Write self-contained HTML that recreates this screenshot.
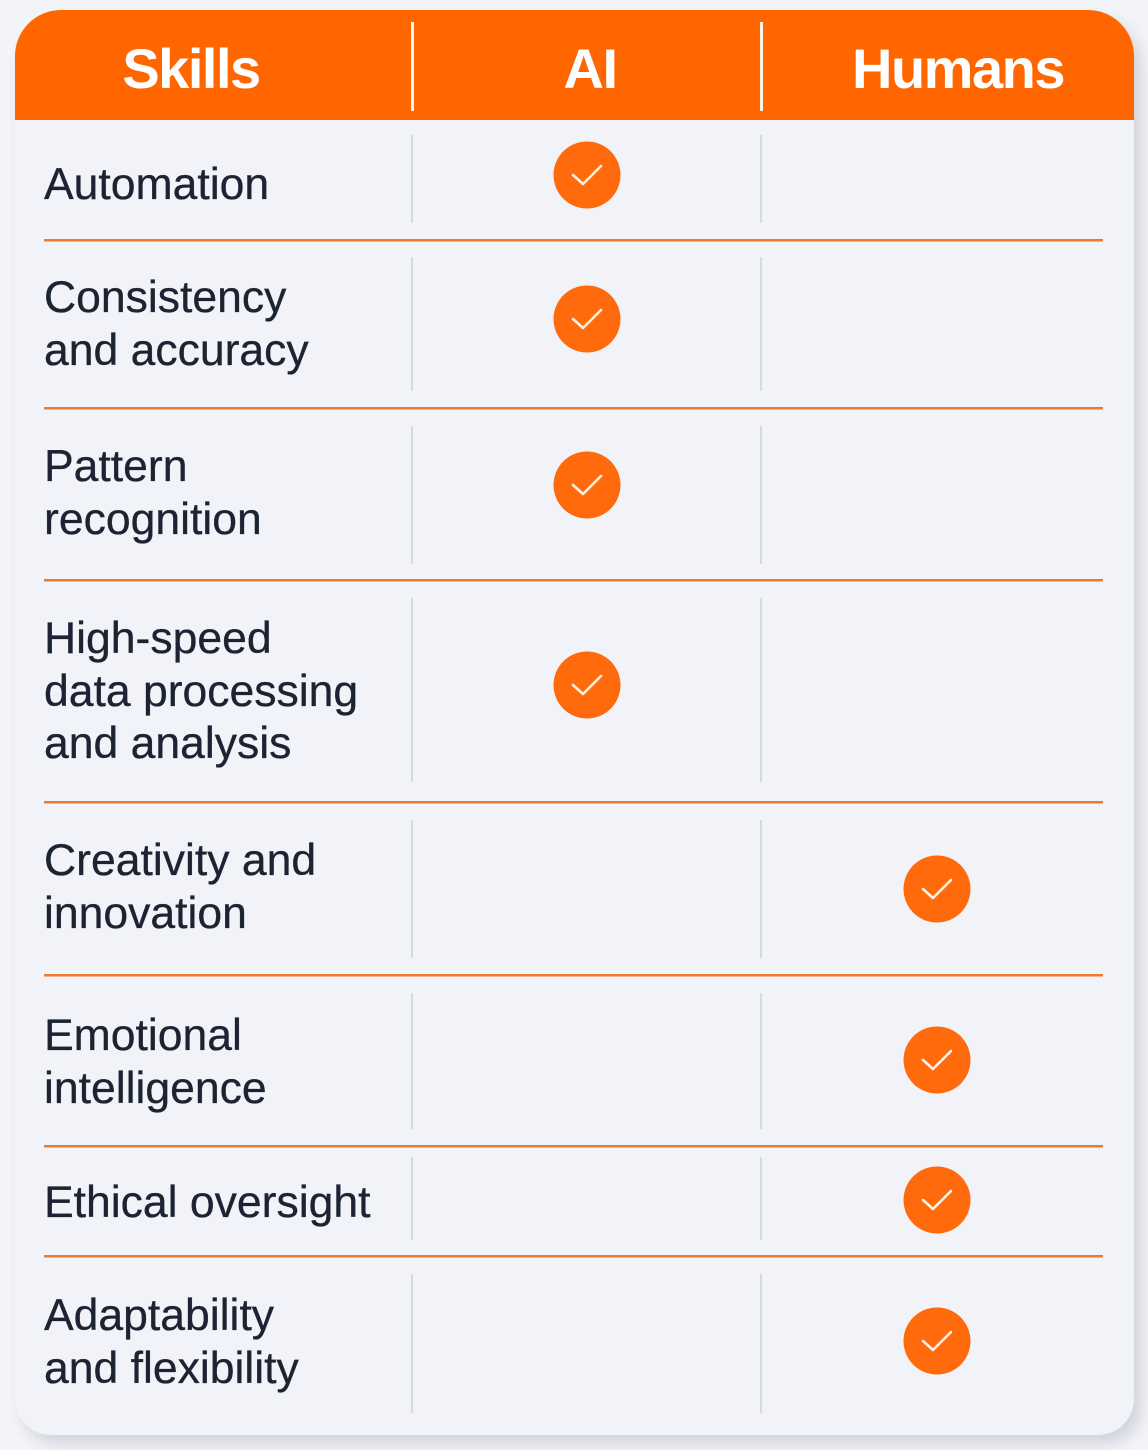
<!DOCTYPE html>
<html>
<head>
<meta charset="utf-8">
<style>
  html, body { margin:0; padding:0; }
  body { width:1148px; height:1450px; background:#f3f4f7; position:relative; overflow:hidden;
         font-family:"Liberation Sans", Arial, sans-serif; }
  .card { position:absolute; left:15px; top:10px; width:1119px; height:1425px;
          background:#f1f3f8; border-radius:46px 46px 36px 36px;
          box-shadow: 7px 9px 14px rgba(40,50,80,0.16); overflow:hidden; }
  .head { position:absolute; left:0; top:0; width:1119px; height:110px; background:#ff6600; }
  .h { position:absolute; width:400px; text-align:center; color:#fff; font-weight:bold;
       font-size:56px; line-height:60px; letter-spacing:-1.5px; top:39px; }
  .t { position:absolute; left:44px; color:#1c2333; font-size:44.5px; line-height:52.5px; white-space:nowrap;
       -webkit-text-stroke:0.3px #1c2333; }
  svg { position:absolute; left:0; top:0; }
</style>
</head>
<body>
<div class="card">
  <div class="head"></div>
</div>
<div class="h" style="left:-9px;">Skills</div>
<div class="h" style="left:390px;">AI</div>
<div class="h" style="left:758px;">Humans</div>

<svg width="1148" height="1450" viewBox="0 0 1148 1450">
  <rect x="411" y="22" width="3" height="89" fill="#fff4ec"/>
  <rect x="760" y="22" width="3" height="89" fill="#fff4ec"/>
  <g fill="#ee7a2e">
    <rect x="44" y="239" width="1059" height="2.5"/>
    <rect x="44" y="407" width="1059" height="2.5"/>
    <rect x="44" y="579" width="1059" height="2.5"/>
    <rect x="44" y="801" width="1059" height="2.5"/>
    <rect x="44" y="974" width="1059" height="2.5"/>
    <rect x="44" y="1145" width="1059" height="2.5"/>
    <rect x="44" y="1255" width="1059" height="2.5"/>
  </g>
  <g fill="#d6d9e0">
    <rect x="411" y="135" width="2" height="88"/>
    <rect x="760" y="135" width="2" height="88"/>
    <rect x="411" y="257" width="2" height="134"/>
    <rect x="760" y="257" width="2" height="134"/>
    <rect x="411" y="426" width="2" height="138"/>
    <rect x="760" y="426" width="2" height="138"/>
    <rect x="411" y="598" width="2" height="184"/>
    <rect x="760" y="598" width="2" height="184"/>
    <rect x="411" y="820" width="2" height="138"/>
    <rect x="760" y="820" width="2" height="138"/>
    <rect x="411" y="993" width="2" height="136"/>
    <rect x="760" y="993" width="2" height="136"/>
    <rect x="411" y="1157" width="2" height="83"/>
    <rect x="760" y="1157" width="2" height="83"/>
    <rect x="411" y="1274" width="2" height="139"/>
    <rect x="760" y="1274" width="2" height="139"/>
  </g>
  <defs>
    <g id="chk">
      <circle cx="0" cy="0" r="33.5" fill="#ff6a0c"/>
      <polyline points="-14,0 -4,9 14,-9" fill="none" stroke="#fff3e6" stroke-width="2.6" stroke-linecap="round" stroke-linejoin="round"/>
    </g>
  </defs>
  <use href="#chk" x="587" y="175"/>
  <use href="#chk" x="587" y="319"/>
  <use href="#chk" x="587" y="485"/>
  <use href="#chk" x="587" y="685"/>
  <use href="#chk" x="937" y="889"/>
  <use href="#chk" x="937" y="1060"/>
  <use href="#chk" x="937" y="1200"/>
  <use href="#chk" x="937" y="1341"/>
</svg>

<div class="t" style="top:159px;">Automation</div>
<div class="t" style="top:272px;">Consistency<br>and accuracy</div>
<div class="t" style="top:441px;">Pattern<br>recognition</div>
<div class="t" style="top:613px;">High-speed<br>data processing<br>and analysis</div>
<div class="t" style="top:835px;">Creativity and<br>innovation</div>
<div class="t" style="top:1010px;">Emotional<br>intelligence</div>
<div class="t" style="top:1177px;">Ethical oversight</div>
<div class="t" style="top:1290px;">Adaptability<br>and flexibility</div>
</body>
</html>
